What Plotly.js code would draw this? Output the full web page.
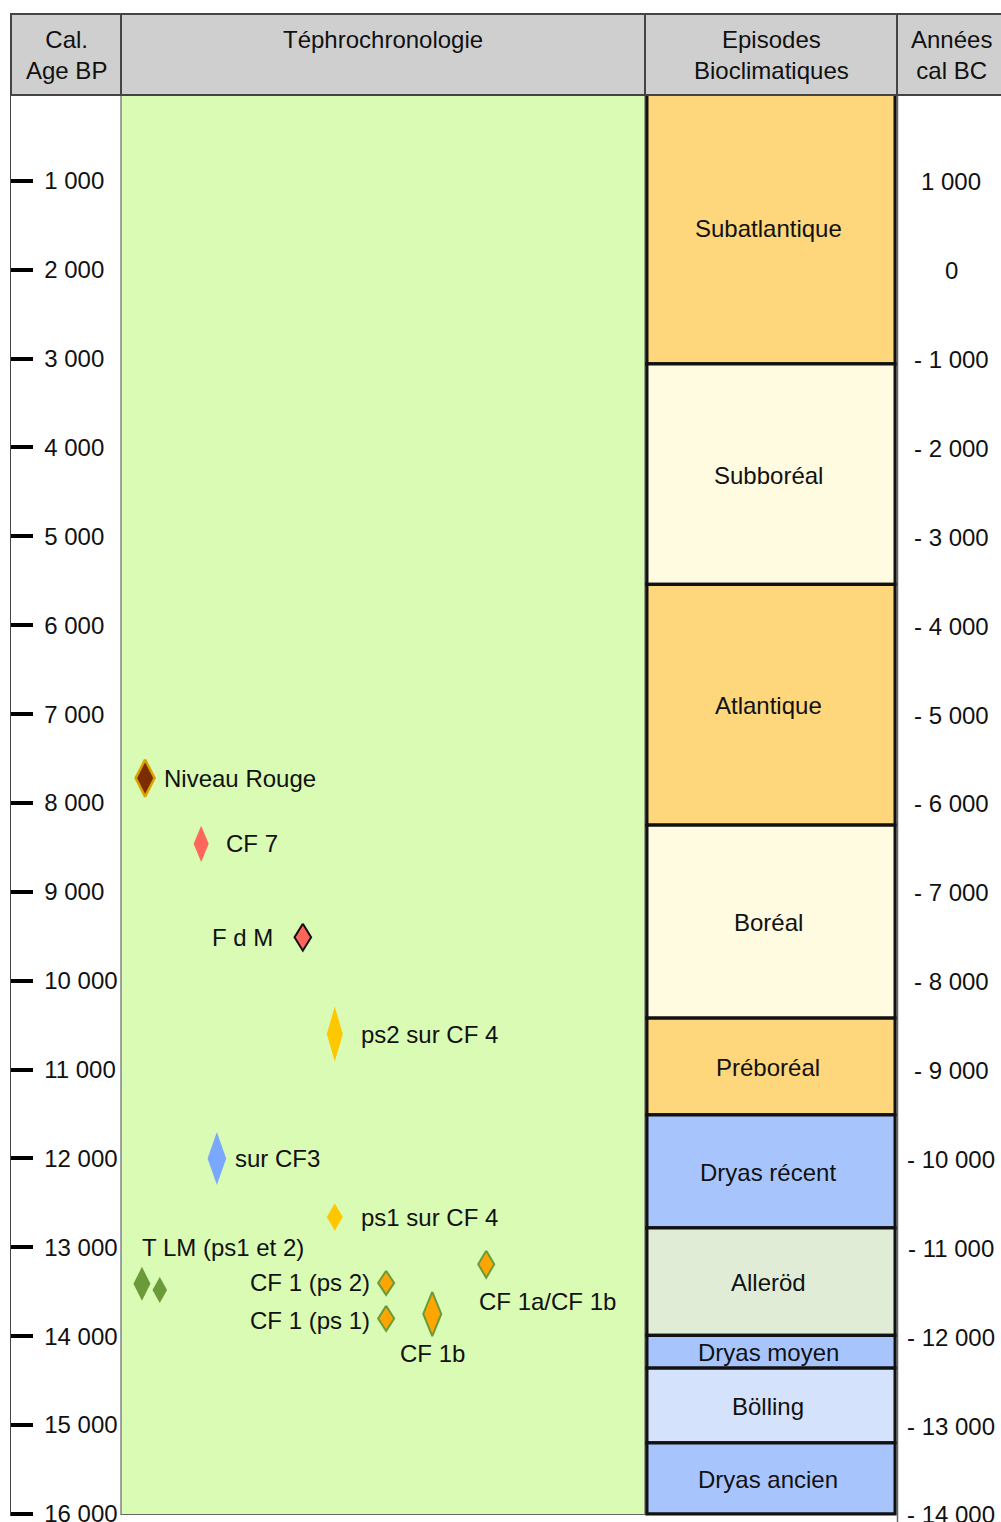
<!DOCTYPE html>
<html><head><meta charset="utf-8">
<script src="https://cdn.plot.ly/plotly-3.0.1.min.js"></script>
<style>html,body{margin:0;padding:0;background:#fff}#chart{width:1001px;height:1522px}</style>
</head><body><div id="chart"></div>
<script>
// ---------------- DATA ----------------
const ageTicks = [1000,2000,3000,4000,5000,6000,7000,8000,9000,10000,11000,12000,13000,14000,15000,16000];
const ageTickLabels = ["1 000","2 000","3 000","4 000","5 000","6 000","7 000","8 000","9 000","10 000","11 000","12 000","13 000","14 000","15 000","16 000"];
const bcTickLabels = ["1 000","0","- 1 000","- 2 000","- 3 000","- 4 000","- 5 000","- 6 000","- 7 000","- 8 000","- 9 000","- 10 000","- 11 000","- 12 000","- 13 000","- 14 000"];

const episodeNames = ["Subatlantique","Subboréal","Atlantique","Boréal","Préboréal","Dryas récent","Alleröd","Dryas moyen","Bölling","Dryas ancien"];
const episodeStart = [0,3060,5540,8250,10420,11510,12780,13990,14360,15200];
const episodeEnd   = [3060,5540,8250,10420,11510,12780,13990,14360,15200,16000];

const tephraNames = ["Niveau Rouge","CF 7","F d M","ps2 sur CF 4","sur CF3","ps1 sur CF 4","T LM (ps1 et 2)","T LM (ps1 et 2)","CF 1 (ps 2)","CF 1 (ps 1)","CF 1b","CF 1a/CF 1b"];
const tephraAge    = [7720,8460,9510,10600,12000,12660,13410,13480,13400,13800,13750,13190];
const tephraAgeHalfRange = [208,203,152,310,298,152,191,146,135,141,248,152];
const tephraLane   = [4.6,15.3,34.7,40.8,18.3,40.8,4.0,7.4,50.6,50.6,59.4,69.7];

// ---------------- STYLE ----------------
const FONT = 'Liberation Sans, Arial, Helvetica, sans-serif';
const episodeColors = ['#fed67b','#fefbe0','#fed67b','#fefbe0','#fed67b','#a8c4fd','#e0ecd5','#a8c4fd','#d5e2fc','#a8c4fd'];
const tephraStyle = [
  {fill:'#7b2c00', line:'#d9a300', lw:2.5, hw:9.5, lab:{a:'left', dx:17, dy:0}},
  {fill:'#ff675a', line:'#ff675a', lw:0,   hw:7.5, lab:{a:'left', dx:23, dy:0}},
  {fill:'#ff6459', line:'#111111', lw:2,   hw:8.3, lab:{a:'right', dx:-28, dy:0}},
  {fill:'#ffc700', line:'#ffc700', lw:0,   hw:8,   lab:{a:'left', dx:24, dy:0}},
  {fill:'#7aa8ff', line:'#7aa8ff', lw:0,   hw:9.3, lab:{a:'left', dx:16, dy:0}},
  {fill:'#ffc700', line:'#ffc700', lw:0,   hw:8,   lab:{a:'left', dx:24, dy:0}},
  {fill:'#6a9a3a', line:'#6a9a3a', lw:0,   hw:8.5, lab:{a:'left', dx:-2, dy:36}},
  {fill:'#6a9a3a', line:'#6a9a3a', lw:0,   hw:7.3, lab:null},
  {fill:'#ffa500', line:'#6a9a3a', lw:2,   hw:8,   lab:{a:'right', dx:-14, dy:0}},
  {fill:'#ffa500', line:'#6a9a3a', lw:2,   hw:8,   lab:{a:'right', dx:-14, dy:-2}},
  {fill:'#ffa500', line:'#6a9a3a', lw:2,   hw:9,   lab:{a:'center', dx:0, dy:-40}},
  {fill:'#ffa500', line:'#6a9a3a', lw:2,   hw:8,   lab:{a:'left', dx:-9, dy:-37}}
];

// page geometry helpers (pixels -> paper)
const PLOT_TOP = 92, PLOT_BOTTOM = 1516;
const dx = p => (p - 11) / 990;
const py = p => (PLOT_BOTTOM - p) / (PLOT_BOTTOM - PLOT_TOP);
const TEPH_PX = 524; // width of tephro column in px, range 0..100

const traces = [];
// anchor trace for left column axis
traces.push({type:'scatter', x:[], y:[], xaxis:'x', yaxis:'y', hoverinfo:'skip'});

// tephra diamonds
tephraAge.forEach((age, i) => {
  const s = tephraStyle[i];
  const hwU = s.hw * 100 / TEPH_PX;
  const x0 = tephraLane[i], r = tephraAgeHalfRange[i];
  traces.push({
    type:'scatter', mode:'lines', xaxis:'x2', yaxis:'y',
    x:[x0, x0 + hwU, x0, x0 - hwU, x0],
    y:[age - r, age, age + r, age, age - r],
    fill:'toself', fillcolor:s.fill,
    line:{color:s.line, width:s.lw},
    hoverinfo:'skip', name:tephraNames[i]
  });
});

// bioclimatic episodes as bars
traces.push({
  type:'bar', xaxis:'x3', yaxis:'y',
  x: episodeNames.map(() => 0.5),
  base: episodeStart,
  y: episodeStart.map((s, i) => episodeEnd[i] - s),
  width: 0.985,
  marker:{color:episodeColors, line:{color:'#111', width:3.2}},
  hoverinfo:'skip', cliponaxis:false
});

const annotations = [];
// episode names
episodeNames.forEach((n, i) => annotations.push({
  xref:'x3', yref:'y', x:0.49, y:(episodeStart[i] + episodeEnd[i]) / 2, text:n, showarrow:false,
  xanchor:'center', yanchor:'middle', yshift:-1,
  font:{family:FONT, size:24, color:'#111'}
}));
// années cal BC labels
ageTicks.forEach((a, i) => annotations.push({
  xref:'x4', yref:'y', x:0.52, y:a, text:bcTickLabels[i], showarrow:false,
  xanchor:'center', yanchor:'middle', yshift:-1,
  font:{family:FONT, size:24, color:'#111'}
}));
// tephra labels
tephraAge.forEach((age, i) => {
  const l = tephraStyle[i].lab;
  if (!l) return;
  annotations.push({
    xref:'x2', yref:'y', x:tephraLane[i], y:age, text:tephraNames[i],
    showarrow:false, xanchor:l.a, yanchor:'middle', xshift:l.dx, yshift:l.dy,
    font:{family:FONT, size:24, color:'#111'}
  });
});
// header titles
const headers = [
  {t:'Cal.<br>Age BP', c:66},
  {t:'Téphrochronologie', c:383},
  {t:'Episodes<br>Bioclimatiques', c:771},
  {t:'Années<br>cal BC', c:951}
];
headers.forEach(h => annotations.push({
  xref:'paper', yref:'paper', x:dx(h.c), y:py(24), text:h.t, showarrow:false,
  xanchor:'center', yanchor:'top', align:'center',
  font:{family:FONT, size:24, color:'#111'}
}));

const shapes = [
  // green tephro column
  {type:'rect', xref:'paper', yref:'paper', x0:dx(121), x1:dx(645), y0:py(1514.5), y1:1, layer:'below',
   fillcolor:'#d9fbb4', line:{color:'#666', width:1.2}},
  // separator episodes / années
  {type:'line', xref:'paper', yref:'paper', x0:dx(897.5), x1:dx(897.5), y0:py(1522), y1:py(95), layer:'above',
   line:{color:'#666', width:1.5}},
  // header
  {type:'rect', xref:'paper', yref:'paper', x0:0, x1:dx(1010), y0:py(95), y1:py(14), layer:'above',
   fillcolor:'#cfcfcf', line:{color:'#444', width:2}}
];
[121, 645, 897].forEach(p => shapes.push({
  type:'line', xref:'paper', yref:'paper', x0:dx(p), x1:dx(p), y0:py(95), y1:py(14), layer:'above',
  line:{color:'#444', width:2}
}));

const layout = {
  width:1001, height:1522,
  margin:{l:11, r:0, t:PLOT_TOP, b:1522 - PLOT_BOTTOM, pad:0},
  paper_bgcolor:'#ffffff', plot_bgcolor:'rgba(0,0,0,0)',
  showlegend:false,
  font:{family:FONT, size:24, color:'#111'},
  xaxis:{domain:[0, dx(121)], range:[0,1], visible:false, fixedrange:true},
  xaxis2:{domain:[dx(121), dx(645)], range:[0,100], visible:false, anchor:'y', fixedrange:true},
  xaxis3:{domain:[dx(645), dx(897)], range:[0,1], visible:false, anchor:'y', fixedrange:true},
  xaxis4:{domain:[dx(897), 1], range:[0,1], visible:false, anchor:'y', fixedrange:true},
  yaxis:{
    range:[16023, 0], anchor:'x', side:'left',
    showline:true, linecolor:'#444', linewidth:1.5,
    ticks:'inside', ticklen:22, tickwidth:4, tickcolor:'#000',
    tickmode:'array', tickvals:ageTicks, ticktext:ageTickLabels,
    ticklabelposition:'inside', ticklabeloverflow:'allow', ticklabelstandoff:13,
    tickfont:{family:FONT, size:24, color:'#111'},
    showgrid:false, zeroline:false, fixedrange:true
  },
  bargap:0,
  shapes:shapes,
  annotations:annotations
};

Plotly.newPlot('chart', traces, layout, {staticPlot:true, displayModeBar:false});
</script>
</body></html>
